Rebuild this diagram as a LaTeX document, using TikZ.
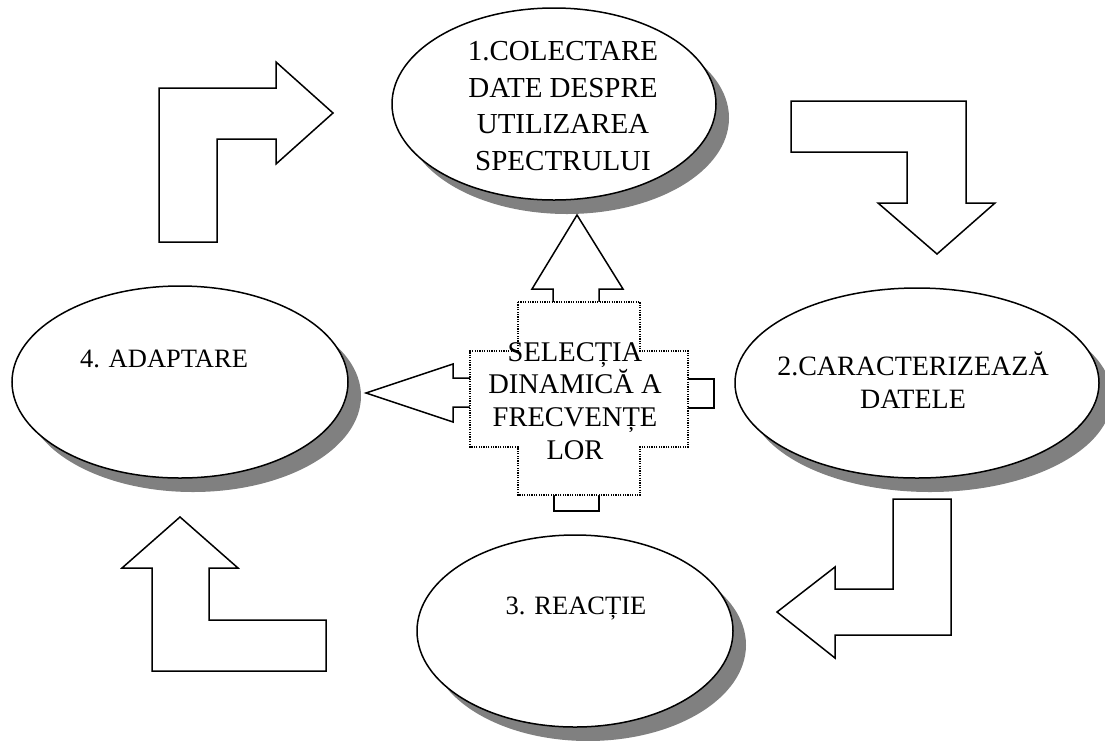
\documentclass[tikz,border=0pt]{standalone}
\usepackage{fontspec}
\setmainfont{Liberation Serif}
\usetikzlibrary{shapes.geometric, shadows}

\tikzset{
  stage/.style={ellipse, draw, line width=1.5pt, fill=white, inner sep=0pt,
    drop shadow={shadow xshift=13pt, shadow yshift=-14pt, fill=black!50, opacity=1}},
  stagetext/.style={align=center, inner sep=0pt, font=\fontsize{28}{33}\selectfont},
  blockarrow/.style={draw, line width=1.5pt, fill=white, line join=miter},
  crossbox/.style={draw, line width=1.2pt, dash pattern=on 1.2pt off 1.2pt, fill=white}
}

\begin{document}
\begin{tikzpicture}[x=1pt, y=-1pt]
\useasboundingbox (0,0) rectangle (1105,740);
% the four stages of the cycle
\node[stage, minimum width=324pt, minimum height=192pt] (colect) at (554,104) {};
\node[stage, minimum width=364pt, minimum height=190pt] (caract) at (917,383) {};
\node[stage, minimum width=316pt, minimum height=192pt] (reactie) at (575,631) {};
\node[stage, minimum width=336pt, minimum height=192pt] (adapt) at (180,382) {};
% block arrows between the stages
\draw[blockarrow] (159,242) -- (159,88) -- (276,88) -- (276,62) -- (333,113)
  -- (276,164) -- (276,139) -- (217,139) -- (217,242) -- cycle;
\draw[blockarrow] (791,101) -- (966,101) -- (966,203) -- (995,203) -- (937,254)
  -- (878,203) -- (907,203) -- (907,152) -- (791,152) -- cycle;
\draw[blockarrow] (893,499) -- (951,499) -- (951,635) -- (835,635) -- (835,658)
  -- (777,612) -- (835,567) -- (835,589) -- (893,589) -- cycle;
\draw[blockarrow] (152,671) -- (326,671) -- (326,620) -- (209,620) -- (209,568)
  -- (238,568) -- (180,517) -- (122,568) -- (152,568) -- cycle;
% centre: arms of the cross
\draw[blockarrow] (553,330) -- (553,289) -- (532,289) -- (577,215) -- (623,289)
  -- (599,289) -- (599,330) -- cycle;
\draw[blockarrow] (500,378) -- (453,378) -- (453,364) -- (366,393) -- (453,422)
  -- (453,407) -- (500,407) -- cycle;
\draw[blockarrow] (660,379) -- (714,379) -- (714,408) -- (660,408) -- cycle;
\draw[blockarrow] (554,470) -- (554,511) -- (599,511) -- (599,470) -- cycle;
\draw[crossbox] (518,302) -- (640,302) -- (640,351) -- (688,351) -- (688,447)
  -- (640,447) -- (640,495) -- (518,495) -- (518,447) -- (470,447) -- (470,351)
  -- (518,351) -- cycle;
% texts
\node[stagetext, font=\fontsize{29}{36.7}\selectfont] (colect-t) at (563,106)
  {1.COLECTARE\\DATE DESPRE\\UTILIZAREA\\SPECTRULUI};
\node[stagetext] (caract-t) at (913,380) {2.CARACTERIZEAZĂ\\DATELE};
\node[stagetext, font=\fontsize{26.5}{32}\selectfont] (reactie-t) at (576,609) {3. REACȚIE};
\node[stagetext, font=\fontsize{26.5}{32}\selectfont] (adapt-t) at (164,359) {4. ADAPTARE};
\node[stagetext, font=\fontsize{28.5}{32.7}\selectfont] (selectie) at (575,401)
  {SELECȚIA\\DINAMICĂ A\\FRECVENȚE\\LOR};
\end{tikzpicture}
\end{document}
